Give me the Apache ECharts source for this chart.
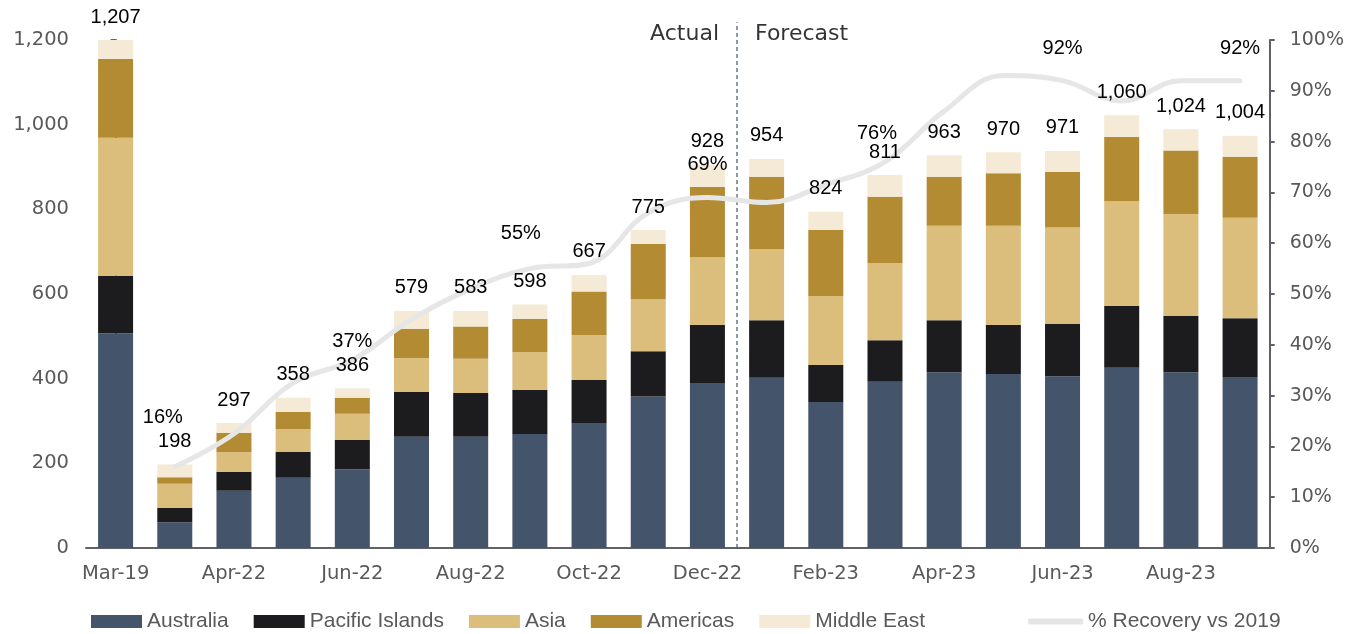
<!DOCTYPE html>
<html>
<head>
<meta charset="utf-8">
<script src="https://cdn.jsdelivr.net/npm/echarts@6/dist/echarts.min.js"></script>
<style>
  html, body { margin: 0; padding: 0; background: #ffffff; }
  #chart { width: 1347px; height: 634px; }
</style>
</head>
<body>
<div id="chart"></div>
<script>
// Monthly passengers ('000) by region, with % recovery against 2019
const months = ['Mar-19', 'Mar-22', 'Apr-22', 'May-22', 'Jun-22', 'Jul-22', 'Aug-22', 'Sep-22',
  'Oct-22', 'Nov-22', 'Dec-22', 'Jan-23', 'Feb-23', 'Mar-23', 'Apr-23', 'May-23', 'Jun-23',
  'Jul-23', 'Aug-23', 'Sep-23'];
const australia = [507, 61, 135, 166, 186, 263, 263, 269, 295, 358, 390, 402, 345, 393, 415, 411, 406, 426, 415, 404];
const pacificIslands = [136, 34, 45, 61, 70, 106, 103, 105, 102, 107, 137, 136, 87, 98, 123, 116, 123, 146, 133, 139];
const asia = [326, 57, 46, 54, 61, 80, 81, 89, 106, 123, 160, 168, 163, 182, 223, 234, 228, 247, 241, 237];
const americas = [186, 15, 46, 40, 38, 69, 76, 78, 103, 130, 166, 171, 156, 157, 116, 124, 132, 152, 150, 144];
const middleEast = [45, 30, 23, 34, 22, 42, 37, 34, 39, 33, 52, 42, 43, 51, 51, 50, 49, 51, 50, 50];
const totals = [1207, 198, 297, 358, 386, 579, 583, 598, 667, 775, 928, 954, 824, 811, 963, 970, 971, 1060, 1024, 1004];
const recovery = ['-', 16, 22.5, 32.5, 37, 45, 51, 55, 56, 66, 69, 68, 71.5, 76, 86, 93, 92, 88, 92, 92];
const recoveryLabelled = [1, 4, 7, 10, 13, 16, 19];
const splitIndex = 10.5;            // boundary between actual and forecast months
const leftTicks = { min: 0, max: 1200, interval: 200 };
const rightTicks = { min: 0, max: 100, interval: 10 };

// remainder of each month's total not covered by the five regions (unshaded)
const otherRegions = totals.map((t, i) =>
  Math.max(0, t - (australia[i] + pacificIslands[i] + asia[i] + americas[i] + middleEast[i])));

const axisFont = 'DejaVu Sans';
const axisGrey = '#595959';
const lineGrey = '#5f6267';

// per-point nudges for the percentage labels so they clear the bars
const pctLabelOffset = { 1: [-12, -17], 4: [0, 13], 7: [-9, -3], 10: [0, -1], 13: [-8, 4], 16: [0, 0], 19: [0, 0] };

const recoveryData = recovery.map((v, i) => {
  if (recoveryLabelled.indexOf(i) < 0) return v;
  return {
    value: v,
    label: { show: true, position: 'top', distance: 22, offset: pctLabelOffset[i], formatter: '{c}%' }
  };
});

function barSeries(name, data, color) {
  return {
    name, type: 'bar', stack: 'total', data,
    xAxisIndex: 0, yAxisIndex: 0,
    barWidth: 35,
    itemStyle: { color },
    z: 2,
    emphasis: { disabled: true }
  };
}

const chart = echarts.init(document.getElementById('chart'), null, { renderer: 'canvas' });

chart.setOption({
  animation: false,
  backgroundColor: '#ffffff',
  grid: { left: 86, right: 73, top: 40, bottom: 86, containLabel: false },
  legend: [
    {
      data: ['Australia', 'Pacific Islands', 'Asia', 'Americas', 'Middle East'],
      left: 91, top: 611, padding: 0,
      itemWidth: 51, itemHeight: 13, itemGap: 25,
      icon: 'rect',
      textStyle: { fontFamily: 'Liberation Sans', fontSize: 21, color: axisGrey }
    },
    {
      data: [{ name: '% Recovery vs 2019', icon: 'roundRect' }],
      left: 1028, top: 611, padding: 0,
      itemWidth: 55, itemHeight: 6,
      textStyle: { fontFamily: 'Liberation Sans', fontSize: 21, color: axisGrey }
    }
  ],
  xAxis: [
    {
      type: 'category',
      data: months,
      axisLine: { lineStyle: { color: lineGrey, width: 2 } },
      axisTick: { show: false },
      axisLabel: { interval: 1, margin: 16, fontFamily: axisFont, fontSize: 19.5, color: axisGrey }
    },
    {
      // continuous helper scale over the same band, used to place the actual/forecast divider
      type: 'value', min: -0.5, max: 19.5, show: false, position: 'bottom',
      axisLine: { show: false }, axisTick: { show: false }, minorTick: { show: false },
      axisLabel: { show: false }, splitLine: { show: false }
    }
  ],
  yAxis: [
    {
      type: 'value', ...leftTicks,
      splitLine: { show: false },
      axisLine: { show: true, lineStyle: { color: lineGrey, width: 2 } },
      axisTick: { show: true, length: 5, lineStyle: { color: lineGrey, width: 2 } },
      axisLabel: {
        margin: 17, fontFamily: axisFont, fontSize: 19.5, color: axisGrey,
        formatter: v => v.toLocaleString('en-US')
      }
    },
    {
      type: 'value', ...rightTicks,
      position: 'right',
      splitLine: { show: false },
      axisLine: { show: true, lineStyle: { color: lineGrey, width: 2 } },
      axisTick: { show: true, length: 5, lineStyle: { color: lineGrey, width: 2 } },
      axisLabel: { margin: 20, fontFamily: axisFont, fontSize: 19, color: axisGrey, formatter: '{value}%' }
    }
  ],
  series: [
    barSeries('Australia', australia, '#44546a'),
    barSeries('Pacific Islands', pacificIslands, '#1c1c1e'),
    barSeries('Asia', asia, '#dbbd7c'),
    barSeries('Americas', americas, '#b38b33'),
    barSeries('Middle East', middleEast, '#f4ead5'),
    {
      name: 'Other', type: 'bar', stack: 'total', data: otherRegions,
      barWidth: 35,
      clip: false,
      itemStyle: { color: 'rgba(255,255,255,0)' },
      label: {
        show: true, position: 'insideBottom', distance: 13,
        fontFamily: 'Liberation Sans', fontSize: 20, color: '#000000',
        formatter: p => totals[p.dataIndex].toLocaleString('en-US')
      },
      z: 6,
      emphasis: { disabled: true }
    },
    {
      name: '% Recovery vs 2019', type: 'line', yAxisIndex: 1,
      data: recoveryData,
      smooth: 0.4,
      connectNulls: false,
      symbol: 'circle', symbolSize: 0.1, showSymbol: true,
      itemStyle: { color: '#e6e6e6' },
      lineStyle: { color: '#e6e6e6', width: 5, cap: 'round' },
      label: { fontFamily: 'Liberation Sans', fontSize: 20, color: '#000000' },
      z: 5,
      emphasis: { disabled: true }
    },
    {
      name: 'split', type: 'line', xAxisIndex: 1, yAxisIndex: 0,
      data: [[splitIndex, 0], [splitIndex, 1242]],
      symbol: 'none', clip: false,
      lineStyle: { color: '#44546a', width: 1.2, type: [4, 3] },
      z: 4,
      emphasis: { disabled: true }
    },
    {
      name: 'phase', type: 'scatter', xAxisIndex: 1, yAxisIndex: 0,
      symbolSize: 0, clip: false,
      data: [
        { value: [splitIndex, 1214], label: { show: true, position: 'left', distance: 18, formatter: 'Actual' } },
        { value: [splitIndex, 1214], label: { show: true, position: 'right', distance: 18, formatter: 'Forecast' } }
      ],
      label: { fontFamily: axisFont, fontSize: 22, color: '#000000' },
      emphasis: { disabled: true }
    }
  ]
});
</script>
</body>
</html>
